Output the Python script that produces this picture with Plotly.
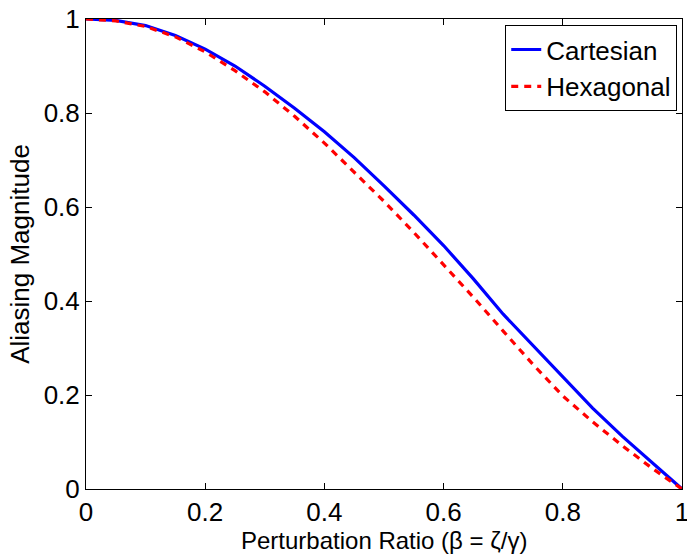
import plotly.graph_objects as go

beta = [0.0, 0.05, 0.1, 0.15, 0.2, 0.25, 0.3, 0.35, 0.4, 0.45, 0.5,
        0.55, 0.6, 0.65, 0.7, 0.75, 0.8, 0.85, 0.9, 0.95, 1.0]
cartesian = [1.0, 0.997, 0.986, 0.965, 0.936, 0.900, 0.857, 0.810, 0.760, 0.705, 0.645,
             0.583, 0.518, 0.447, 0.372, 0.305, 0.237, 0.172, 0.112, 0.055, 0.0]
hexagonal = [1.0, 0.996, 0.984, 0.962, 0.930, 0.890, 0.845, 0.793, 0.736, 0.675, 0.612,
             0.546, 0.478, 0.408, 0.336, 0.265, 0.198, 0.143, 0.092, 0.044, 0.0]

x_ticks = [0, 0.2, 0.4, 0.6, 0.8, 1]
x_labels = ["0", "0.2", "0.4", "0.6", "0.8", "1"]
y_ticks = [0, 0.2, 0.4, 0.6, 0.8, 1]
y_labels = ["0", "0.2", "0.4", "0.6", "0.8", "1"]
x_title = "Perturbation Ratio (β = ζ/γ)"
y_title = "Aliasing Magnitude"

font = "Liberation Sans, Arial, sans-serif"
fs = 26

fig = go.Figure()
fig.add_trace(go.Scatter(x=beta, y=cartesian, mode="lines", name="Cartesian",
                         line=dict(color="#0000ff", width=3.2)))
fig.add_trace(go.Scatter(x=beta, y=hexagonal, mode="lines", name="Hexagonal",
                         line=dict(color="#ff0000", width=3.2, dash="7px,6px")))

axis_common = dict(showgrid=False, zeroline=False, showline=True, linecolor="black",
                   linewidth=1, mirror="ticks", ticks="inside", ticklen=6,
                   tickcolor="black", tickwidth=1, ticklabeloverflow="allow",
                   automargin=False,
                   tickfont=dict(family=font, size=fs, color="black"))

fig.update_xaxes(range=[0, 1], tickvals=x_ticks, ticktext=x_labels, **axis_common)
fig.update_yaxes(range=[0, 1], tickvals=y_ticks, ticktext=y_labels,
                 title=dict(text=y_title,
                            font=dict(family=font, size=fs, color="black"), standoff=6),
                 **axis_common)

fig.add_annotation(text=x_title, xref="paper", yref="paper", x=0.5, y=-0.1435,
                   xanchor="center", yanchor="bottom", showarrow=False,
                   font=dict(family=font, size=24, color="black"))

fig.update_layout(
    width=687, height=557,
    margin=dict(l=86, r=5, t=19, b=68),
    paper_bgcolor="white", plot_bgcolor="white",
    font=dict(family=font, size=fs, color="black"),
    legend=dict(x=0.992, y=0.987, xanchor="right", yanchor="top",
                bordercolor="black", borderwidth=1, bgcolor="white",
                font=dict(family=font, size=fs, color="black"),
                tracegroupgap=0),
    showlegend=True,
)

fig.write_html("out.html")
